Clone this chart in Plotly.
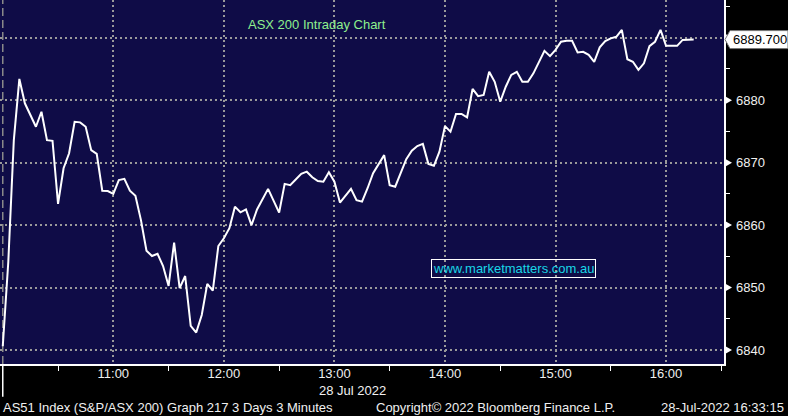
import plotly.graph_objects as go

# ---------------- data ----------------
times = ["10:00", "10:03", "10:06", "10:09", "10:12", "10:18", "10:21", "10:24", "10:27",
         "10:30", "10:33", "10:36", "10:39", "10:42", "10:45", "10:48", "10:51", "10:54",
         "10:57", "11:00", "11:03", "11:06", "11:09", "11:12", "11:15", "11:18", "11:21",
         "11:24", "11:27", "11:30", "11:33", "11:36", "11:39", "11:42", "11:45", "11:48",
         "11:51", "11:54", "11:57", "12:00", "12:03", "12:06", "12:09", "12:12", "12:15",
         "12:18", "12:24", "12:30", "12:33", "12:36", "12:39", "12:42", "12:45", "12:48",
         "12:51", "12:54", "12:57", "13:00", "13:03", "13:09", "13:12", "13:15", "13:18",
         "13:21", "13:27", "13:30", "13:33", "13:36", "13:39", "13:42", "13:45", "13:48",
         "13:51", "13:54", "13:57", "14:00", "14:03", "14:06", "14:09", "14:12", "14:15",
         "14:18", "14:21", "14:24", "14:27", "14:30", "14:33", "14:36", "14:39", "14:42",
         "14:45", "14:48", "14:51", "14:54", "14:57", "15:00", "15:03", "15:06", "15:09",
         "15:12", "15:15", "15:18", "15:21", "15:24", "15:27", "15:30", "15:33", "15:36",
         "15:39", "15:42", "15:45", "15:48", "15:51", "15:54", "15:57", "16:00", "16:03",
         "16:06", "16:09", "16:12", "16:15"]
values = [6840.6, 6854.1, 6873.6, 6883.4, 6879.5, 6875.75, 6878.15, 6873.6, 6873.5,
          6863.4, 6869.1, 6871.5, 6876.55, 6876.45, 6875.75, 6872.0, 6871.4, 6865.5,
          6865.45, 6865.0, 6867.2, 6867.4, 6865.5, 6864.7, 6860.8, 6855.9, 6855.05,
          6855.4, 6853.45, 6850.25, 6857.2, 6849.9, 6851.85, 6843.85, 6842.8, 6845.6,
          6850.6, 6849.5, 6856.65, 6857.9, 6859.5, 6862.95, 6862.05, 6862.5, 6860.0,
          6862.5, 6865.8, 6862.0, 6866.6, 6866.4, 6867.3, 6868.2, 6868.55, 6867.65,
          6867.05, 6866.95, 6868.45, 6866.95, 6863.6, 6865.8, 6864.0, 6863.75, 6865.9,
          6868.3, 6871.2, 6866.4, 6866.15, 6868.3, 6870.55, 6871.9, 6872.65, 6873.0,
          6869.8, 6869.5, 6871.75, 6875.85, 6874.95, 6877.8, 6877.8, 6877.25, 6881.8,
          6880.65, 6880.85, 6884.55, 6882.95, 6879.75, 6882.15, 6884.05, 6884.55, 6882.95,
          6882.95, 6884.3, 6886.15, 6887.9, 6887.05, 6888.05, 6889.35, 6889.5, 6889.5,
          6887.65, 6887.75, 6887.25, 6886.15, 6888.45, 6889.45, 6889.9, 6890.15, 6891.25,
          6886.55, 6886.15, 6884.85, 6885.9, 6888.65, 6889.35, 6891.25, 6888.7, 6888.7,
          6888.7, 6889.65, 6889.7, 6889.7]

day = "2022-07-28"
x_tick_labels = ["11:00", "12:00", "13:00", "14:00", "15:00", "16:00"]
x_minor_labels = ["10:30", "11:30", "12:30", "13:30", "14:30", "15:30", "16:30"]
y_tick_values = [6840, 6850, 6860, 6870, 6880, 6890]
y_tick_labels = ["6840", "6850", "6860", "6870", "6880", ""]  # 6890 hidden under price box
y_minor_values = [6845, 6855, 6865, 6875, 6885, 6895]
x_range = ["09:58:30", "16:31:27"]
y_range = [6837.76, 6896.04]

title_text = "ASX 200 Intraday Chart"
watermark = "www.marketmatters.com.au"
date_label = "28 Jul 2022"
footer_left = "AS51 Index (S&P/ASX 200) Graph 217 3 Days 3 Minutes"
footer_mid = "Copyright\u00a9 2022 Bloomberg Finance L.P."
footer_right = "28-Jul-2022 16:33:15"

# ---------------- figure ----------------
FONT = "Liberation Sans, Arial, sans-serif"
BG = "#0f0c47"
GRID = "#9a9a9a"

x = [f"{day} {t}" for t in times]

fig = go.Figure()
fig.add_trace(go.Scatter(x=x, y=values, mode="lines",
                         line=dict(color="white", width=2), hoverinfo="skip",
                         showlegend=False))

fig.update_layout(
    width=788, height=416,
    margin=dict(l=0, r=64, t=0, b=52, autoexpand=False),
    paper_bgcolor="black", plot_bgcolor=BG,
    font=dict(family=FONT, size=13, color="#f0f0f0"),
    showlegend=False,
)

fig.update_xaxes(
    type="date",
    range=[f"{day} {x_range[0]}", f"{day} {x_range[1]}"],
    tickmode="array",
    tickvals=[f"{day} {t}" for t in x_tick_labels],
    ticktext=x_tick_labels,
    ticks="",
    ticklabelstandoff=-3,
    showgrid=True, gridcolor=GRID, griddash="2px,3px", gridwidth=2,
    showline=True, linecolor="white", linewidth=1.5,
    zeroline=False, automargin=False,
    minor=dict(tickmode="array", tickvals=[f"{day} {t}" for t in x_minor_labels],
               ticks="outside", ticklen=5, tickcolor="white", tickwidth=1,
               showgrid=False),
    tickfont=dict(size=13, color="#f0f0f0"),
)

fig.update_yaxes(
    side="right",
    range=y_range,
    tickmode="array",
    tickvals=y_tick_values,
    ticktext=y_tick_labels,
    ticks="",
    ticklabelstandoff=8,
    showgrid=True, gridcolor=GRID, griddash="2px,3px", gridwidth=2,
    showline=True, linecolor="white", linewidth=1.5,
    zeroline=False, automargin=False,
    minor=dict(tickmode="array", tickvals=y_minor_values, ticks="outside",
               ticklen=4, tickcolor="white", tickwidth=1, showgrid=False),
    tickfont=dict(size=13, color="#f0f0f0"),
)

shapes = []
# day separator (dashed line in plot, solid tick below)
shapes.append(dict(type="line", xref="x", yref="paper",
                   x0=f"{day} {times[0]}", x1=f"{day} {times[0]}", y0=0, y1=1,
                   line=dict(color="#8a8a8a", width=1.5, dash="8px,4px"), layer="below"))
shapes.append(dict(type="line", xref="x", yref="paper",
                   x0=f"{day} {times[0]}", x1=f"{day} {times[0]}", y0=0, y1=-0.09,
                   line=dict(color="white", width=1.5)))
# right axis triangle markers
for v in y_tick_values:
    shapes.append(dict(type="path", xref="paper", yref="y",
                       xsizemode="pixel", ysizemode="pixel",
                       xanchor=1, yanchor=v,
                       path="M1,-4 L8,0 L1,4 Z",
                       fillcolor="white", line=dict(color="white", width=0)))
# last price label box
shapes.append(dict(type="path", xref="paper", yref="y",
                   xsizemode="pixel", ysizemode="pixel",
                   xanchor=1, yanchor=values[-1],
                   path="M1,0 L6,-9 L64,-9 L64,9 L6,9 Z",
                   fillcolor="white", line=dict(color="#777777", width=1)))
fig.update_layout(shapes=shapes)

annotations = [
    dict(text=title_text, xref="paper", yref="paper", x=317 / 724, y=1 - 25 / 364,
         xanchor="center", yanchor="middle", showarrow=False,
         font=dict(family=FONT, size=13, color="#8ef08e")),
    dict(text=watermark, xref="paper", yref="paper", x=513 / 724, y=1 - 268.8 / 364,
         xanchor="center", yanchor="middle", showarrow=False,
         bordercolor="white", borderwidth=1, borderpad=1,
         font=dict(family=FONT, size=13, color="#19d6e6")),
    dict(text=f"{values[-1]:.3f}", xref="paper", yref="y", x=1, y=values[-1],
         xanchor="left", yanchor="middle", xshift=7, showarrow=False,
         font=dict(family=FONT, size=13, color="black")),
    dict(text=date_label, xref="x", yref="paper", x=f"{day} 13:00", y=-26 / 364,
         xanchor="left", yanchor="middle", xshift=-17, showarrow=False,
         font=dict(family=FONT, size=13, color="#f0f0f0")),
    dict(text=footer_left, xref="paper", yref="paper", x=1 / 724, y=-43.7 / 364,
         xanchor="left", yanchor="middle", showarrow=False,
         font=dict(family=FONT, size=13, color="#f0f0f0")),
    dict(text=footer_mid, xref="paper", yref="paper", x=374 / 724, y=-43.7 / 364,
         xanchor="left", yanchor="middle", showarrow=False,
         font=dict(family=FONT, size=13, color="#f0f0f0")),
    dict(text=footer_right, xref="paper", yref="paper", x=786 / 724, y=-43.7 / 364,
         xanchor="right", yanchor="middle", showarrow=False,
         font=dict(family=FONT, size=13, color="#f0f0f0")),
]
fig.update_layout(annotations=annotations)

fig.write_html("out.html",
               config={"displayModeBar": False, "staticPlot": True},
               post_script="document.body.style.margin='0';document.body.style.background='black';")
